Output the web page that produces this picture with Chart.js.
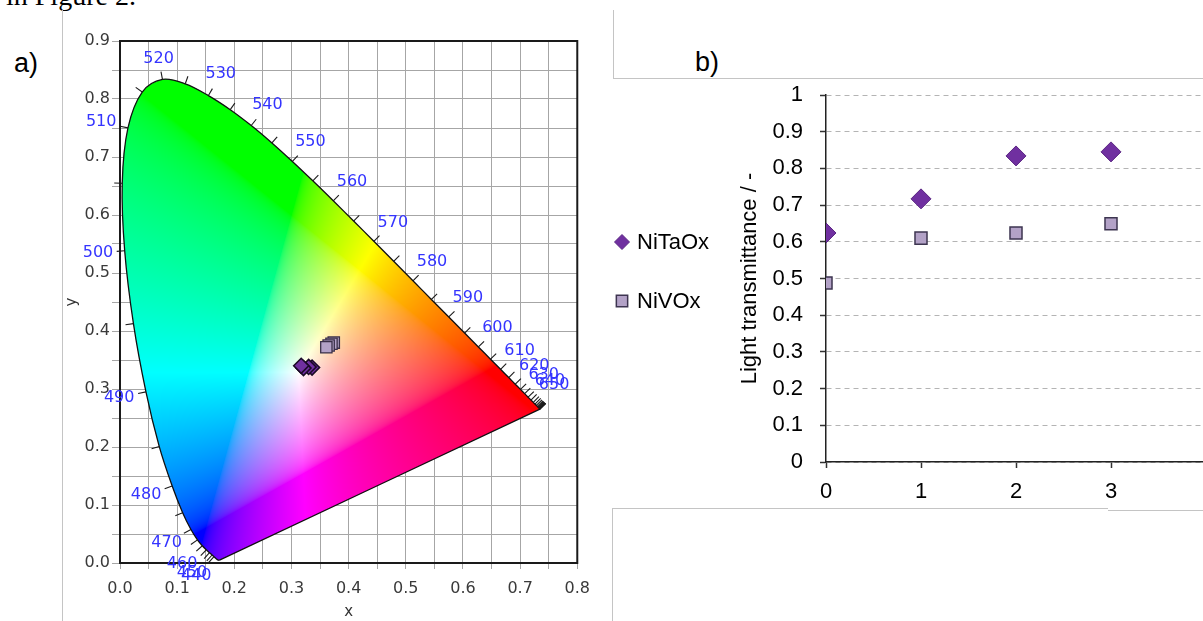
<!DOCTYPE html>
<html><head><meta charset="utf-8">
<script src="https://cdn.jsdelivr.net/npm/chart.js@4.4.1/dist/chart.umd.min.js"></script>
<style>
html,body{margin:0;padding:0;background:#fff;width:1203px;height:621px;overflow:hidden;position:relative;}
.abs{position:absolute;white-space:nowrap;color:#000;}
.ln{position:absolute;background:#c4c4c4;}
#ca{position:absolute;left:0;top:0;}
#cb{position:absolute;left:614px;top:0;}
</style></head><body>
<div class="abs" style="left:6px;top:-18.5px;font:28px 'Liberation Serif';line-height:28px;">in Figure 2.</div>
<div class="abs" style="left:14px;top:50px;font:27px 'Liberation Sans';line-height:27px;">a)</div>
<div class="abs" style="left:695px;top:49px;font:27px 'Liberation Sans';line-height:27px;">b)</div>
<div class="ln" style="left:62px;top:10px;width:1px;height:611px;"></div>
<div class="ln" style="left:613px;top:10px;width:1px;height:68px;"></div>
<div class="ln" style="left:613px;top:78px;width:590px;height:1px;"></div>
<div class="ln" style="left:612px;top:508px;width:496px;height:1px;"></div>
<div class="ln" style="left:1108px;top:510px;width:95px;height:1px;"></div>
<div class="ln" style="left:612px;top:508px;width:1px;height:113px;"></div>
<canvas id="ca" width="600" height="621"></canvas>
<canvas id="cb" width="640" height="621"></canvas>
<script>
// ---------- Panel a: CIE 1931 chromaticity diagram ----------
const wavelengths = [380,385,390,395,400,405,410,415,420,425,430,435,440,445,450,455,460,465,470,475,480,485,490,495,500,505,510,515,520,525,530,535,540,545,550,555,560,565,570,575,580,585,590,595,600,605,610,615,620,625,630,635,640,645,650,655,660,665,670,675,680,685,690,695,700];
const locusX = [0.1741,0.1740,0.1738,0.1736,0.1733,0.1730,0.1726,0.1721,0.1714,0.1703,0.1689,0.1669,0.1644,0.1611,0.1566,0.1510,0.1440,0.1355,0.1241,0.1096,0.0913,0.0687,0.0454,0.0235,0.0082,0.0039,0.0139,0.0389,0.0743,0.1142,0.1547,0.1929,0.2296,0.2658,0.3016,0.3373,0.3731,0.4087,0.4441,0.4788,0.5125,0.5448,0.5752,0.6029,0.6270,0.6482,0.6658,0.6801,0.6915,0.7006,0.7079,0.7140,0.7190,0.7230,0.7260,0.7283,0.7300,0.7311,0.7320,0.7327,0.7334,0.7340,0.7344,0.7346,0.7347];
const locusY = [0.0050,0.0050,0.0049,0.0049,0.0048,0.0048,0.0048,0.0048,0.0051,0.0058,0.0069,0.0086,0.0109,0.0138,0.0177,0.0227,0.0297,0.0399,0.0578,0.0868,0.1327,0.2007,0.2950,0.4127,0.5384,0.6548,0.7502,0.8120,0.8338,0.8262,0.8059,0.7816,0.7543,0.7243,0.6923,0.6589,0.6245,0.5896,0.5547,0.5202,0.4866,0.4544,0.4242,0.3965,0.3725,0.3514,0.3340,0.3197,0.3083,0.2993,0.2920,0.2859,0.2809,0.2770,0.2740,0.2717,0.2700,0.2689,0.2680,0.2673,0.2666,0.2660,0.2656,0.2654,0.2653];
const labeledWavelengths = [440,450,460,470,480,490,500,510,520,530,540,550,560,570,580,590,600,610,620,630,640,650];
const firstTickWavelength = 440;
const cieNiTaOxX = [0.336,0.330,0.321,0.317];
const cieNiTaOxY = [0.337,0.338,0.336,0.340];
const cieNiVOxX = [0.374,0.370,0.365,0.361];
const cieNiVOxY = [0.380,0.378,0.375,0.372];

// ---------- Panel b: light transmittance ----------
const cycles = [0,1,2,3];
const nitaoxT = [0.624,0.717,0.834,0.845];
const nivoxT = [0.488,0.610,0.624,0.649];
const seriesNames = ['NiTaOx','NiVOx'];

function srgb(c){ return c<=0.0031308 ? 12.92*c : 1.055*Math.pow(c,1/2.4)-0.055; }
function xyToRGB(x,y){
  if (y < 1e-4) y = 1e-4;
  const X = x/y, Y = 1, Z = (1-x-y)/y;
  let r =  3.2406*X - 1.5372*Y - 0.4986*Z;
  let g = -0.9689*X + 1.8758*Y + 0.0415*Z;
  let b =  0.0557*X - 0.2040*Y + 1.0570*Z;
  r = Math.max(r,0); g = Math.max(g,0); b = Math.max(b,0);
  const m = Math.max(r,g,b) || 1;
  return [srgb(r/m)*255, srgb(g/m)*255, srgb(b/m)*255];
}

function locusPath(chart, ctx){
  const meta = chart.getDatasetMeta(0);
  meta.dataset.updateControlPoints(chart.chartArea, 'x');
  const pts = meta.data;
  ctx.beginPath();
  ctx.moveTo(pts[0].x, pts[0].y);
  for (let i=1;i<pts.length;i++){
    const p = pts[i-1], q = pts[i];
    ctx.bezierCurveTo(p.cp2x, p.cp2y, q.cp1x, q.cp1y, q.x, q.y);
  }
  ctx.closePath();
}

const cieFill = {
  id:'cieFill',
  beforeDatasetsDraw(chart){
    const {ctx, chartArea:a, scales:{x:xs, y:ys}} = chart;
    const w = Math.ceil(a.right - a.left), h = Math.ceil(a.bottom - a.top);
    const off = document.createElement('canvas');
    off.width = w; off.height = h;
    const octx = off.getContext('2d');
    const img = octx.createImageData(w, h);
    const d = img.data;
    for (let j=0;j<h;j++){
      const yv = ys.getValueForPixel(a.top + j + 0.5);
      for (let i=0;i<w;i++){
        const xv = xs.getValueForPixel(a.left + i + 0.5);
        const c = xyToRGB(xv, yv);
        const k = (j*w+i)*4;
        d[k]=c[0]; d[k+1]=c[1]; d[k+2]=c[2]; d[k+3]=255;
      }
    }
    octx.putImageData(img,0,0);
    ctx.save();
    locusPath(chart, ctx);
    ctx.clip();
    ctx.drawImage(off, a.left, a.top);
    ctx.restore();
  }
};

const cieFrame = {
  id:'cieFrame',
  afterDatasetsDraw(chart){
    const {ctx, chartArea:a} = chart;
    ctx.save();
    ctx.strokeStyle = '#1a1a1a';
    ctx.lineWidth = 2;
    ctx.strokeRect(a.left, a.top, a.right-a.left, a.bottom-a.top);
    ctx.restore();
  }
};

const cieWavelengths = {
  id:'cieWavelengths',
  afterDatasetsDraw(chart){
    const {ctx, scales:{x:xs, y:ys}} = chart;
    const P = wavelengths.map((w,i)=>[xs.getPixelForValue(locusX[i]), ys.getPixelForValue(locusY[i])]);
    const W = [xs.getPixelForValue(0.3333), ys.getPixelForValue(0.3333)];
    ctx.save();
    ctx.strokeStyle = '#1a1a1a';
    ctx.lineWidth = 1.1;
    ctx.font = "16px 'DejaVu Sans'";
    ctx.fillStyle = '#3434ff';
    ctx.textAlign = 'center';
    ctx.textBaseline = 'middle';
    wavelengths.forEach((wl,i)=>{
      if (wl < firstTickWavelength) return;
      const p0 = P[Math.max(i-1,0)], p1 = P[Math.min(i+1,P.length-1)];
      let tx = p1[0]-p0[0], ty = p1[1]-p0[1];
      const L = Math.hypot(tx,ty) || 1; tx/=L; ty/=L;
      let nx = ty, ny = -tx;
      if ((P[i][0]-W[0])*nx + (P[i][1]-W[1])*ny < 0){ nx=-nx; ny=-ny; }
      ctx.beginPath();
      ctx.moveTo(P[i][0], P[i][1]);
      ctx.lineTo(P[i][0]+nx*8, P[i][1]+ny*8);
      ctx.stroke();
      if (labeledWavelengths.includes(wl)){
        const t = String(wl);
        const hw = ctx.measureText(t).width/2, hh = 7;
        const dist = 11 + hw*Math.abs(nx) + hh*Math.abs(ny);
        ctx.fillText(t, P[i][0]+nx*dist, P[i][1]+ny*dist);
      }
    });
    ctx.restore();
  }
};

const gridGray = '#a6a6a6';
const tickLabelColor = '#3a3a3a';
const fontA = {family:"'DejaVu Sans'", size:16};
const tenthLabel = v => (Math.round(v*20) % 2 === 0) ? v.toFixed(1) : '';

const locusPts = wavelengths.map((w,i)=>({x:locusX[i], y:locusY[i]}));
locusPts.push({x:locusX[0], y:locusY[0]});

new Chart(document.getElementById('ca'), {
  type:'scatter',
  data:{datasets:[
    {label:'Spectral locus', data:locusPts, showLine:true, tension:0.35, borderColor:'#111', borderWidth:1.3, pointRadius:0, fill:false},
    {label:'NiTaOx', data:cieNiTaOxX.map((x,i)=>({x, y:cieNiTaOxY[i]})), pointStyle:'rectRot', pointRadius:7.5, backgroundColor:'#7030a0', borderColor:'#1a0a26', borderWidth:1.6},
    {label:'NiVOx', data:cieNiVOxX.map((x,i)=>({x, y:cieNiVOxY[i]})), pointStyle:'rect', pointRadius:8, backgroundColor:'#b3a2c7', borderColor:'#3a3048', borderWidth:1.3}
  ]},
  options:{
    responsive:false, animation:false, events:[],
    layout:{padding:{top:41, right:18, left:0, bottom:0}},
    plugins:{legend:{display:false}, tooltip:{enabled:false}},
    scales:{
      x:{type:'linear', min:0, max:0.8,
         afterFit(s){ s.height = 58; },
         ticks:{stepSize:0.05, autoSkip:false, maxRotation:0, padding:10, color:tickLabelColor, font:fontA, callback:tenthLabel},
         grid:{color:gridGray, tickColor:gridGray, tickLength:6, lineWidth:1},
         border:{display:false},
         title:{display:true, text:'x', color:'#333', font:{family:"'DejaVu Sans'", size:15}, padding:{top:0,bottom:0}}},
      y:{type:'linear', min:0, max:0.9,
         afterFit(s){ s.width = 120; },
         ticks:{stepSize:0.05, autoSkip:false, padding:2, color:tickLabelColor, font:fontA, callback:tenthLabel},
         grid:{color:gridGray, tickColor:gridGray, tickLength:8, lineWidth:1},
         border:{display:false},
         title:{display:true, text:'y', color:'#333', font:{family:"'DejaVu Sans'", size:15}, padding:{top:63,bottom:0}}}
    }
  },
  plugins:[cieFill, cieFrame, cieWavelengths]
});

// ---------- Panel b chart ----------
const legendRadius = [7.5, 8];
const legendB = {
  id:'legendB',
  afterDraw(chart){
    const {ctx, chartArea:a} = chart;
    ctx.save();
    ctx.font = "22px 'Liberation Sans'";
    ctx.textBaseline = 'middle';
    ctx.textAlign = 'left';
    chart.data.datasets.forEach((ds,i)=>{
      const cx = a.left - 204, cy = a.top + 147 + i*59;
      ctx.fillStyle = ds.backgroundColor;
      ctx.strokeStyle = ds.borderColor;
      ctx.lineWidth = ds.borderWidth;
      Chart.helpers.drawPoint(ctx, {pointStyle:ds.pointStyle, radius:legendRadius[i], borderWidth:ds.borderWidth, rotation:0}, cx, cy);
      ctx.fillStyle = '#000';
      ctx.fillText(ds.label, a.left - 189, cy + 1);
    });
    ctx.restore();
  }
};

const fontB = {family:"'Liberation Sans'", size:22};
new Chart(document.getElementById('cb'), {
  type:'scatter',
  data:{datasets:[
    {label:seriesNames[0], data:cycles.map((c,i)=>({x:c, y:nitaoxT[i]})), pointStyle:'rectRot', pointRadius:10, backgroundColor:'#7030a0', borderColor:'#5b2683', borderWidth:1},
    {label:seriesNames[1], data:cycles.map((c,i)=>({x:c, y:nivoxT[i]})), pointStyle:'rect', pointRadius:8.5, backgroundColor:'#b3a2c7', borderColor:'#3d3550', borderWidth:1.5}
  ]},
  options:{
    responsive:false, animation:false, events:[],
    layout:{padding:{top:95, right:48, left:0, bottom:0}},
    plugins:{legend:{display:false}, tooltip:{enabled:false}},
    scales:{
      x:{type:'linear', min:0, max:4,
         afterFit(s){ s.height = 159; },
         ticks:{stepSize:1, padding:11, color:'#000', font:fontB, maxRotation:0, callback:v => v < 4 ? String(v) : ''},
         grid:{drawOnChartArea:false, tickLength:6, tickColor:'#333', tickWidth:1.5},
         border:{color:'#222', width:1.5}},
      y:{type:'linear', min:0, max:1,
         afterFit(s){ s.width = 212; },
         ticks:{stepSize:0.1, padding:17, color:'#000', font:fontB, callback:v => String(Math.round(v*10)/10)},
         grid:{color:'#b4b4b4', lineWidth:1, tickLength:6, tickColor:'#333', tickWidth:1.5, tickBorderDash:[]},
         border:{color:'#222', width:1.5, dash:[5,4]},
         title:{display:true, text:'Light transmittance / -', color:'#000', font:fontB, padding:{top:123,bottom:0}}}
    }
  },
  plugins:[legendB]
});
</script>
</body></html>
